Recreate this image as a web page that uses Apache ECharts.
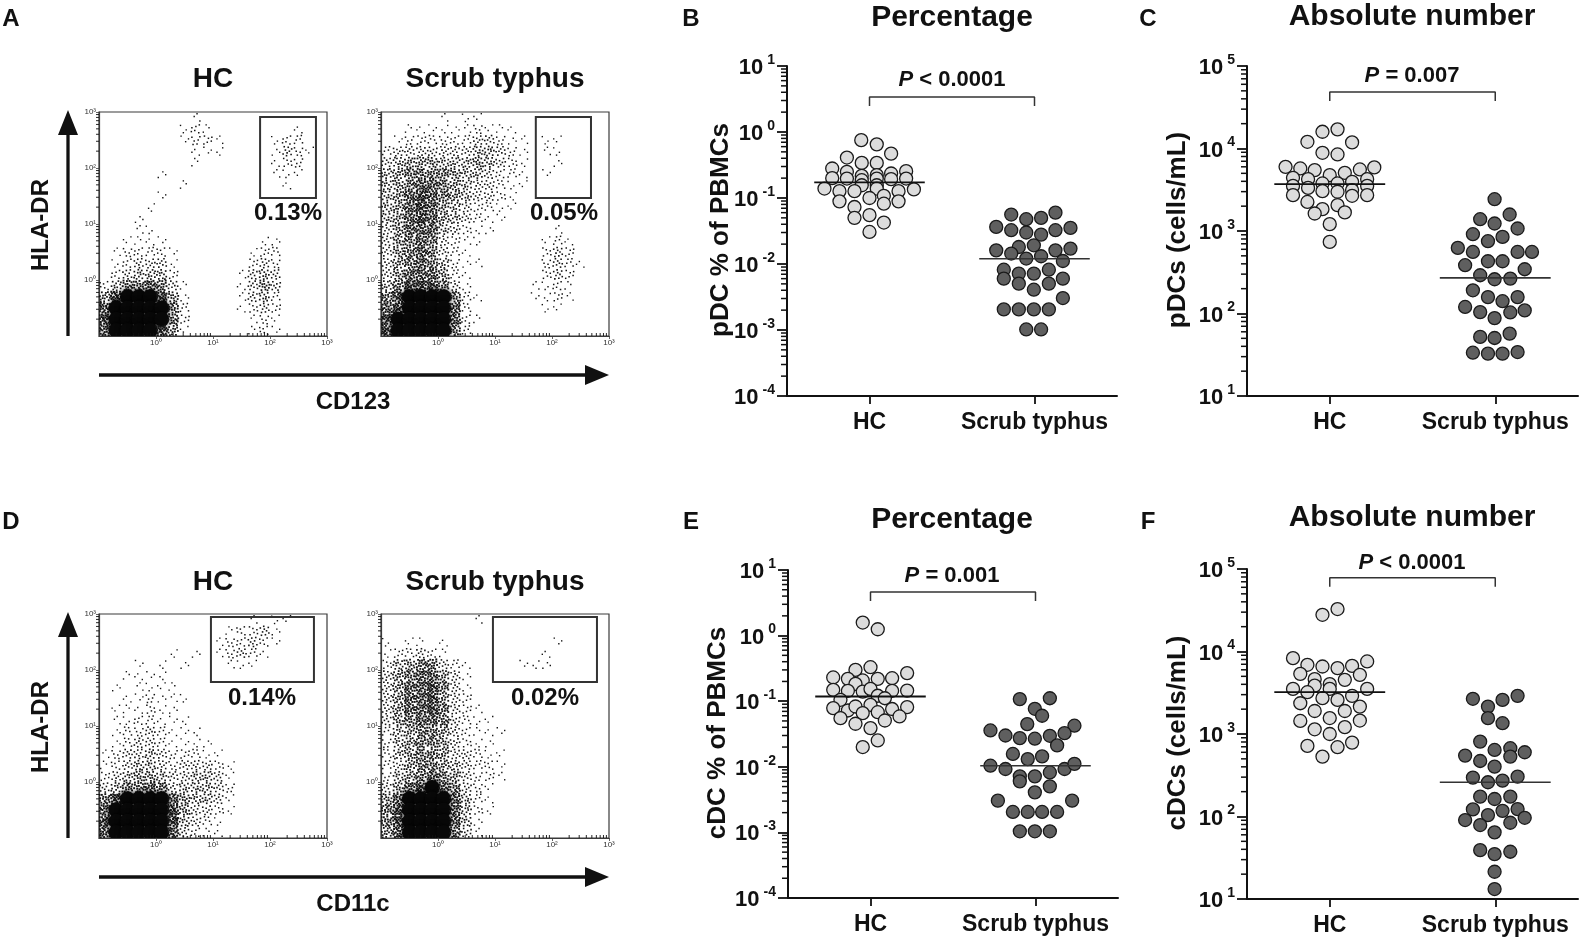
<!DOCTYPE html>
<html>
<head>
<meta charset="utf-8">
<title>pDC / cDC in scrub typhus</title>
<script src="https://cdn.jsdelivr.net/npm/echarts/dist/echarts.min.js"></script>
<style>
html, body { margin: 0; padding: 0; background: #fff; }
#chart { width: 1580px; height: 938px; }
</style>
</head>
<body>
<div id="chart"></div>
<script>
// ---- data ----
var groupNames = ['HC', 'Scrub typhus'];

// dot plots: [horizontal jitter, value]
var pdcPctHC = [[-0.05,0.753],[0.044,0.65],[0.131,0.47],[-0.137,0.41],[-0.047,0.34],[0.044,0.34],[-0.226,0.28],[-0.137,0.249],[-0.047,0.216],[0.044,0.222],[0.131,0.235],[0.222,0.255],[-0.226,0.20],[-0.137,0.197],[-0.047,0.186],[0.044,0.197],[0.131,0.193],[0.222,0.197],[-0.047,0.156],[0.044,0.156],[-0.273,0.139],[-0.182,0.127],[-0.091,0.127],[0.044,0.139],[0.176,0.127],[0.269,0.135],[0,0.10],[0.087,0.108],[0.087,0.082],[-0.182,0.089],[0.176,0.089],[-0.091,0.073],[-0.091,0.05],[0,0.055],[0.087,0.0425],[0,0.0306]];
var pdcPctST = [[-0.141,0.0561],[-0.05,0.0477],[0.04,0.0499],[0.127,0.060],[-0.232,0.0365],[-0.141,0.0325],[-0.05,0.030],[0.04,0.0279],[0.127,0.0325],[0.218,0.0352],[-0.095,0.0181],[-0.004,0.0192],[-0.232,0.0161],[-0.141,0.0144],[0.127,0.0161],[0.218,0.0171],[-0.05,0.0121],[0.04,0.0131],[0.172,0.0111],[-0.186,0.0082],[-0.095,0.00715],[-0.004,0.00715],[0.087,0.0082],[-0.186,0.006],[-0.095,0.00504],[0.087,0.00504],[0.172,0.006],[-0.004,0.00408],[0.172,0.00305],[-0.186,0.00205],[-0.095,0.00205],[-0.004,0.00205],[0.087,0.00205],[-0.05,0.00102],[0.04,0.00102]];
var pdcPctMedian = [0.172, 0.012];

var pdcAbsHC = [[-0.044,15950],[0.047,17060],[-0.135,12050],[0.135,11860],[-0.044,8870],[0.047,8470],[-0.267,5990],[-0.178,5730],[-0.091,5470],[0,4750],[0.091,5070],[0.182,5570],[0.269,5900],[-0.222,4410],[-0.131,4250],[-0.044,3770],[0.047,3770],[0.135,3950],[0.226,4250],[-0.222,3520],[-0.131,3330],[-0.044,3040],[0.047,2990],[0.135,3130],[0.226,3520],[0.135,2670],[-0.222,2720],[0.226,2720],[-0.135,2250],[-0.044,1840],[0.047,2060],[-0.091,1630],[0.091,1680],[0,1210],[0,738]];
var pdcAbsST = [[-0.004,2430],[-0.091,1390],[0.087,1585],[-0.004,1233],[0.135,1072],[-0.135,914],[-0.044,752],[0.044,848],[-0.226,624],[-0.135,557],[0.135,557],[0.222,557],[-0.182,385],[-0.044,430],[0.044,430],[0.178,344],[-0.091,291],[-0.004,260],[0.091,265],[-0.135,191],[-0.044,158],[0.044,141],[0.135,158],[-0.182,120],[-0.091,104],[-0.004,88],[0.091,103],[0.178,109],[-0.091,52],[-0.004,50.5],[0.087,57],[-0.135,33.5],[-0.044,32.6],[0.044,32.6],[0.135,34.1]];
var pdcAbsMedian = [3700, 270];

var cdcPctHC = [[-0.047,1.58],[0.044,1.25],[-0.091,0.30],[0,0.33],[0.222,0.268],[-0.226,0.23],[-0.137,0.219],[-0.047,0.207],[0.044,0.219],[0.131,0.224],[-0.091,0.184],[-0.226,0.149],[-0.137,0.144],[-0.047,0.14],[0,0.154],[0.131,0.144],[0.222,0.145],[0.044,0.121],[0.087,0.111],[-0.182,0.105],[-0.226,0.0785],[-0.137,0.0722],[-0.091,0.083],[0,0.088],[-0.047,0.0658],[0.044,0.068],[0.131,0.076],[0.222,0.0813],[-0.182,0.0552],[0.087,0.0508],[0.176,0.0585],[-0.091,0.0453],[0,0.0389],[0.044,0.0252],[-0.047,0.02]];
var cdcPctST = [[-0.095,0.1077],[0.087,0.111],[-0.004,0.0766],[0.04,0.06],[-0.05,0.0448],[0.236,0.0423],[-0.273,0.0358],[-0.182,0.03],[-0.095,0.0274],[-0.004,0.0268],[0.087,0.0297],[0.176,0.0326],[0.131,0.0212],[-0.137,0.0157],[-0.047,0.0131],[0.04,0.0144],[-0.273,0.0104],[-0.182,0.00925],[0.176,0.00925],[0.236,0.0111],[-0.095,0.00715],[-0.004,0.00715],[0.087,0.0082],[-0.095,0.006],[0.087,0.00504],[-0.004,0.00408],[-0.228,0.00305],[0.222,0.00305],[-0.137,0.00205],[-0.047,0.00205],[0.04,0.00205],[0.131,0.00205],[-0.095,0.00104],[-0.004,0.00104],[0.087,0.00104]];
var cdcPctMedian = [0.118, 0.0104];

var cdcAbsHC = [[-0.044,27860],[0.047,32700],[-0.222,8310],[-0.135,6900],[-0.044,6580],[0.047,6290],[0.135,6700],[0.226,7570],[-0.178,5360],[0.182,5210],[-0.091,4620],[0.091,4530],[-0.091,3860],[0,4020],[-0.222,3520],[-0.135,3210],[0,3520],[0.226,3520],[-0.044,2720],[0.047,2590],[0.135,2900],[-0.178,2360],[0.182,2150],[-0.091,1900],[0.091,1900],[-0.178,1440],[0,1560],[0.182,1455],[-0.091,1140],[0.091,1210],[0,1000],[-0.135,717],[0.047,692],[0.135,787],[-0.044,532]];
var cdcAbsST = [[-0.135,2670],[-0.044,2150],[0.044,2590],[0.135,2900],[-0.044,1557],[0.044,1352],[-0.091,809],[-0.182,547],[-0.091,471],[-0.004,641],[0.091,673],[0.091,532],[0.178,601],[-0.004,402],[-0.135,296],[-0.044,260],[0.044,272],[0.135,304],[-0.091,174],[-0.004,163],[0.091,174],[-0.135,122],[-0.044,104],[0.044,117],[0.135,123],[-0.182,90.6],[0.178,96.5],[-0.091,78.8],[0.091,84],[-0.004,64.3],[-0.091,39.1],[-0.004,35],[0.091,37.4],[-0.004,21.4],[-0.004,13.2]];
var cdcAbsMedian = [3210, 260];

var pValues = ['< 0.0001', '= 0.007', '= 0.001', '< 0.0001'];
var pctTicks = [1e-4, 1e-3, 1e-2, 1e-1, 1, 10];
var absTicks = [10, 100, 1e3, 1e4, 1e5];

// flow plots: density, 20x20 cells, log 10^-1..10^3 on both axes
// rows top (10^3) to bottom (10^-1), columns left to right, 0 = empty .. 9 = solid
var flowPdcHC = [
  '00000000100000000000','00000001210000000100','00000001221000012200','00000000111000013210',
  '00000000100000012200','00000100000000011100','00000001000000001000','00000100000000000000',
  '00001000000000000000','00010000000000000000','00011000000000000000','00111100000000110000',
  '01222210000001220000','01233310000002320000','02344420000013430000','24667631000013530000',
  '58999851000013420000','79999962000012320000','89999962000001210000','79999851000001210000'];
var flowPdcST = [
  '00000101100000000000','00111111211100000000','01222222332110110000','23333333443210110000',
  '34555444543210010000','45666654432210100000','45677654332110000000','45787654332100000000',
  '45787543221100000000','45787543211000000000','35777432110000010000','35676321100000121000',
  '35676321000000232000','35676421100000232100','35777521000000232000','46888631000001121000',
  '68999962100001121000','78999972000000110000','89999972100000000000','89999962000000000000'];
var flowCdcHC = [
  '00000000000001011000','00000000000122310000','00000000001223210000','00000010101232100000',
  '00010101000111000000','00111100000000000000','01011110000000000000','00112111000000000000',
  '01112110000000000000','01122111000000000000','01223211100000000000','01233211110000000000',
  '12334322211000000000','12344323332100000000','23455433443100000000','34667634443200000000',
  '68999975443100000000','79999985332100000000','89999984321000000000','79999973211000000000'];
var flowCdcST = [
  '00000000100000000000','00000000000000000000','10110100000000010000','12232100000000100000',
  '24566321000011100000','35677531000000000000','35778631000000000000','35778532000000000000',
  '35778632100000000000','35677632110000000000','24566532111000000000','24566532110000000000',
  '24566533211000000000','23566543221000000000','24567653221000000000','35789763210000000000',
  '57999974210000000000','68999974210000000000','68999974100000000000','57999963100000000000'];
var flowTicks = [1, 10, 100, 1000];
// gate bounds [xMin, yMin, xMax, yMax]
var gatePdcHC = [67, 29, 640, 810];
var gatePdcST = [52, 29, 483, 810];
var gateCdcHC = [9.2, 61, 590, 884];
var gateCdcST = [9.2, 61, 615, 884];
var gatePercents = ['0.13%', '0.05%', '0.14%', '0.02%'];

// ---- layout ----
var FONT = '"Liberation Sans", Arial, Helvetica, sans-serif';
var FLOW_W = 228, FLOW_H = 224, CELLS = 20;
var flowBoxes = [[99, 112], [381, 112], [99, 614], [381, 614]];
var dotBoxes = [[787, 66, 330, 330], [1247, 66, 331, 330], [788, 570, 330, 328], [1247, 569, 331, 330]];
var dotBrackets = [[2.47, 3.39], [37600, 48300], [3.37, 4.62], [60900, 78300]];
var pTextPos = [[952, 80], [1412, 76], [952, 576], [1412, 563]];

var flowSets = [
  {rows: flowPdcHC, gate: gatePdcHC}, {rows: flowPdcST, gate: gatePdcST},
  {rows: flowCdcHC, gate: gateCdcHC}, {rows: flowCdcST, gate: gateCdcST}];
var dotSets = [
  {hc: pdcPctHC, st: pdcPctST, med: pdcPctMedian, min: 1e-4, max: 10, ticks: pctTicks},
  {hc: pdcAbsHC, st: pdcAbsST, med: pdcAbsMedian, min: 10, max: 1e5, ticks: absTicks},
  {hc: cdcPctHC, st: cdcPctST, med: cdcPctMedian, min: 1e-4, max: 10, ticks: pctTicks},
  {hc: cdcAbsHC, st: cdcAbsST, med: cdcAbsMedian, min: 10, max: 1e5, ticks: absTicks}];

var SUP = {'0': '\u2070', '1': '\u00b9', '2': '\u00b2', '3': '\u00b3'};
function flowLabel(v) {
  var e = Math.round(Math.log10(v));
  return e < 0 ? '' : '10' + SUP[e];
}
function expLabel(v) {
  var e = Math.round(Math.log10(v));
  return '{b|10}{e|' + e + '}';
}
var EXP_RICH = {
  b: {fontSize: 22, fontWeight: 'bold', fontFamily: FONT, color: '#111', lineHeight: 26, verticalAlign: 'bottom'},
  e: {fontSize: 14, fontWeight: 'bold', fontFamily: FONT, color: '#111', lineHeight: 14, verticalAlign: 'top', padding: [0, 0, 0, 4]}
};
// minor log ticks 2..9 per decade
function minorTicks(min, max) {
  var out = [];
  for (var e = Math.round(Math.log10(min)); e < Math.round(Math.log10(max)); e++) {
    for (var k = 2; k < 10; k++) out.push(k * Math.pow(10, e));
  }
  return out;
}

function densityData(rows) {
  var out = [];
  rows.forEach(function (row, r) {
    for (var c = 0; c < row.length; c++) {
      var lv = +row[c];
      if (lv > 0) out.push([Math.pow(10, -1 + 4 * (c + 0.5) / CELLS), Math.pow(10, 3 - 4 * (r + 0.5) / CELLS), lv]);
    }
  });
  return out;
}

// fixed speckle layout inside a cell (texture only)
var SPECK = [[0.15,0.2],[0.65,0.6],[0.4,0.85],[0.85,0.25],[0.3,0.5],[0.75,0.9],[0.55,0.1],[0.1,0.7],
  [0.5,0.35],[0.92,0.55],[0.22,0.92],[0.68,0.38],[0.05,0.42],[0.45,0.65],[0.85,0.05],[0.32,0.08],
  [0.6,0.82],[0.18,0.58],[0.78,0.7],[0.4,0.22],[0.95,0.85],[0.08,0.05],[0.58,0.5],[0.28,0.75]];

function renderSpeckle(params, api) {
  var lv = api.value(2);
  var p = api.coord([api.value(0), api.value(1)]);
  var cs = params.coordSys;
  var cw = cs.width / CELLS, ch = cs.height / CELLS;
  var x0 = p[0] - cw / 2, y0 = p[1] - ch / 2;
  if (lv >= 9) {
    return {type: 'circle', shape: {cx: p[0], cy: p[1], r: 0.66 * Math.max(cw, ch)},
      style: {fill: '#080808', shadowBlur: 5, shadowColor: 'rgba(0,0,0,0.85)'}};
  }
  var n = lv * 3, v = (params.dataIndex * 5 + 3) % 8, kids = [];
  var sz = 1.3 + 0.1 * lv;
  for (var k = 0; k < n; k++) {
    var o = SPECK[k];
    var ox = (v & 4) ? o[1] : o[0];
    var oy = (v & 4) ? o[0] : o[1];
    if (v & 1) ox = 1 - ox;
    if (v & 2) oy = 1 - oy;
    kids.push({type: 'rect', shape: {x: x0 + ox * cw - sz / 2, y: y0 + oy * ch - sz / 2, width: sz, height: sz}, style: {fill: '#151515'}});
  }
  return {type: 'group', children: kids};
}

function renderGate(params, api) {
  var a = api.coord([api.value(0), api.value(1)]);
  var b = api.coord([api.value(2), api.value(3)]);
  return {
    type: 'rect',
    shape: {x: Math.min(a[0], b[0]), y: Math.min(a[1], b[1]), width: Math.abs(b[0] - a[0]), height: Math.abs(b[1] - a[1])},
    style: {fill: 'none', stroke: '#333', lineWidth: 2}
  };
}

function flowAxis(gi, pos) {
  return {
    type: 'log', logBase: 10, gridIndex: gi, position: pos, min: 0.1, max: 1000,
    axisLine: {show: true, onZero: false, lineStyle: {color: '#3a3a3a', width: 1.2}},
    axisTick: {show: true, customValues: flowTicks, length: 3, lineStyle: {color: '#3a3a3a', width: 0.8}},
    axisLabel: {show: true, customValues: flowTicks, formatter: flowLabel, fontSize: 8, color: '#333', margin: 3, fontFamily: FONT},
    splitLine: {show: false}
  };
}

var grids = [], xAxes = [], yAxes = [], series = [];

flowBoxes.forEach(function (b, i) {
  grids.push({left: b[0], top: b[1], width: FLOW_W, height: FLOW_H, show: true,
    borderColor: '#3a3a3a', borderWidth: 1.2, backgroundColor: 'transparent'});
  xAxes.push(flowAxis(i, 'bottom'));
  yAxes.push(flowAxis(i, 'left'));
  series.push({
    type: 'custom', xAxisIndex: i, yAxisIndex: i, renderItem: renderSpeckle, clip: true,
    data: densityData(flowSets[i].rows), silent: true, z: 2
  });
  series.push({
    type: 'custom', xAxisIndex: i, yAxisIndex: i, renderItem: renderGate,
    data: [flowSets[i].gate], silent: true, z: 3
  });
});

dotBoxes.forEach(function (b, j) {
  var d = dotSets[j], gi = 4 + j;
  grids.push({left: b[0], top: b[1], width: b[2], height: b[3], show: false});
  xAxes.push({
    type: 'value', gridIndex: gi, min: 0.5, max: 2.5, position: 'bottom',
    axisLine: {onZero: false, lineStyle: {color: '#111', width: 2}},
    axisTick: {customValues: [1, 2], length: 8, lineStyle: {color: '#111', width: 1.8}},
    axisLabel: {customValues: [1, 2], formatter: function (v) { return groupNames[Math.round(v) - 1]; },
      fontSize: 23, fontWeight: 'bold', color: '#111', margin: 15, fontFamily: FONT},
    splitLine: {show: false}
  });
  yAxes.push({
    type: 'log', logBase: 10, gridIndex: gi, position: 'left', min: d.min, max: d.max,
    axisLine: {show: true, onZero: false, lineStyle: {color: '#111', width: 2}},
    axisTick: {show: true, customValues: d.ticks, length: 10, lineStyle: {color: '#111', width: 1.8}},
    axisLabel: {customValues: d.ticks, formatter: expLabel, margin: 12, color: '#111', rich: EXP_RICH},
    splitLine: {show: false}
  });
  series.push({
    type: 'scatter', xAxisIndex: gi, yAxisIndex: gi, silent: true, z: 3,
    data: d.hc.map(function (p) { return [1 + p[0], p[1]]; }),
    symbolSize: 13, itemStyle: {color: '#dcdcdc', borderColor: '#1a1a1a', borderWidth: 1.3, opacity: 1}
  });
  series.push({
    type: 'scatter', xAxisIndex: gi, yAxisIndex: gi, silent: true, z: 3,
    data: d.st.map(function (p) { return [2 + p[0], p[1]]; }),
    symbolSize: 13, itemStyle: {color: '#5f5f5f', borderColor: '#1a1a1a', borderWidth: 1.3, opacity: 1}
  });
  series.push({
    type: 'line', xAxisIndex: gi, yAxisIndex: gi, silent: true, z: 4, symbol: 'none',
    data: [[1 - 0.335, d.med[0]], [1 + 0.335, d.med[0]]], lineStyle: {color: '#111', width: 1.8}
  });
  series.push({
    type: 'line', xAxisIndex: gi, yAxisIndex: gi, silent: true, z: 4, symbol: 'none',
    data: [[2 - 0.335, d.med[1]], [2 + 0.335, d.med[1]]], lineStyle: {color: '#333', width: 1.6}
  });
  var br = dotBrackets[j];
  series.push({
    type: 'line', xAxisIndex: gi, yAxisIndex: gi, silent: true, z: 4, symbol: 'none',
    data: [[1, br[0]], [1, br[1]], [2, br[1]], [2, br[0]]], lineStyle: {color: '#333', width: 1.5}
  });
});

// ---- text and arrows ----
var graphics = [];
function txt(s, x, y, size, extra) {
  var el = {type: 'text', x: x, y: y, silent: true,
    style: {text: s, font: 'bold ' + size + 'px ' + FONT, fill: '#111', textAlign: 'center', textVerticalAlign: 'middle'}};
  if (extra) for (var k in extra) el[k] = extra[k];
  graphics.push(el);
}
[['A', 11, 19], ['B', 691, 19], ['C', 1148, 19], ['D', 11, 522], ['E', 691, 522], ['F', 1148, 522]]
  .forEach(function (l) { txt(l[0], l[1], l[2], 24); });

[[213, 79], [495, 79], [213, 582], [495, 582]].forEach(function (p, i) { txt(groupNames[i % 2], p[0], p[1], 28); });
[[288, 213], [564, 213], [262, 698], [545, 698]].forEach(function (p, i) { txt(gatePercents[i], p[0], p[1], 24); });

[[110, 336, 375, 'CD123'], [612, 838, 877, 'CD11c']].forEach(function (a) {
  var top = a[0], bot = a[1], ay = a[2];
  graphics.push({type: 'line', silent: true, shape: {x1: 68, y1: bot, x2: 68, y2: top + 22}, style: {stroke: '#111', lineWidth: 3.3}});
  graphics.push({type: 'polygon', silent: true, shape: {points: [[58, top + 25], [78, top + 25], [68, top]]}, style: {fill: '#111'}});
  graphics.push({type: 'line', silent: true, shape: {x1: 99, y1: ay, x2: 588, y2: ay}, style: {stroke: '#111', lineWidth: 3.3}});
  graphics.push({type: 'polygon', silent: true, shape: {points: [[585, ay - 10], [585, ay + 10], [609, ay]]}, style: {fill: '#111'}});
  txt('HLA-DR', 41, (top + bot) / 2 + 2, 24, {rotation: Math.PI / 2});
  txt(a[3], 353, ay + 27, 24);
});

[['Percentage', 952, 18], ['Absolute number', 1412, 17], ['Percentage', 952, 520], ['Absolute number', 1412, 518]]
  .forEach(function (t) { txt(t[0], t[1], t[2], 30); });
[['pDC % of PBMCs', 721, 230], ['pDCs (cells/mL)', 1178, 230], ['cDC % of PBMCs', 718, 733], ['cDCs (cells/mL)', 1178, 733]]
  .forEach(function (t) { txt(t[0], t[1], t[2], 26, {rotation: Math.PI / 2}); });

pTextPos.forEach(function (p, i) {
  graphics.push({type: 'text', x: p[0], y: p[1], silent: true,
    style: {text: '{i|P} ' + pValues[i], font: 'bold 22px ' + FONT, fill: '#111', textAlign: 'center', textVerticalAlign: 'middle',
      rich: {i: {fontStyle: 'italic', fontWeight: 'bold', fontSize: 22, fontFamily: FONT, fill: '#111'}}}});
});
graphics.forEach(function (g, k) { g.id = 'g' + k; });

var chart = echarts.init(document.getElementById('chart'));
chart.setOption({
  animation: false,
  backgroundColor: '#fff',
  textStyle: {fontFamily: FONT},
  grid: grids,
  xAxis: xAxes,
  yAxis: yAxes,
  series: series,
  graphic: graphics
});

// minor log ticks 2..9, positioned with each axis' own scale
var tickMarks = [];
function pushTick(x1, y1, x2, y2, width) {
  tickMarks.push({type: 'line', id: 't' + tickMarks.length, silent: true, z: 10,
    shape: {x1: x1, y1: y1, x2: x2, y2: y2}, style: {stroke: '#111', lineWidth: width}});
}
function minorOnY(yi, axisX, values, len, width) {
  values.forEach(function (v) {
    var y = chart.convertToPixel({yAxisIndex: yi}, v);
    if (typeof y === 'number' && isFinite(y)) pushTick(axisX - len, y, axisX, y, width);
  });
}
function minorOnX(xi, axisY, values, len, width) {
  values.forEach(function (v) {
    var x = chart.convertToPixel({xAxisIndex: xi}, v);
    if (typeof x === 'number' && isFinite(x)) pushTick(x, axisY, x, axisY - len, width);
  });
}
flowBoxes.forEach(function (b, i) {
  minorOnY(i, b[0], minorTicks(0.1, 1000), 3, 0.9);
  minorOnX(i, b[1] + FLOW_H, minorTicks(0.1, 1000), 3, 0.9);
});
dotBoxes.forEach(function (b, j) {
  minorOnY(4 + j, b[0], minorTicks(dotSets[j].min, dotSets[j].max), 6, 1.5);
});
chart.setOption({graphic: tickMarks});
</script>
</body>
</html>
